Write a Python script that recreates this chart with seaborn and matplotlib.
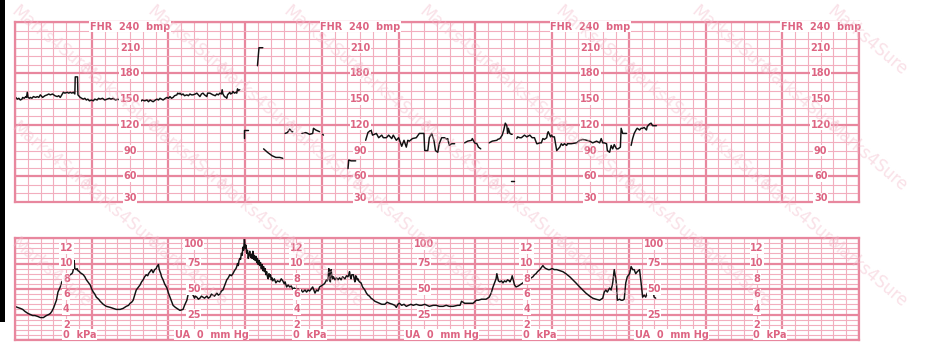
import numpy as np
import pandas as pd
import matplotlib
matplotlib.use("Agg")
import matplotlib.pyplot as plt
import seaborn as sns
from matplotlib.ticker import MultipleLocator
from matplotlib.patches import Rectangle

sns.set_theme(style="white")
plt.rcParams['font.family'] = ['DejaVu Sans']

nan = float('nan')

# ---------------- data (time in minutes) ----------------
fhr_time = [
    0.01, 0.03, 0.05, 0.07, 0.09, 0.10, 0.12, 0.14, 0.15, 0.16, 0.17, 0.19, 0.20, 0.22, 0.24, 0.27, 0.29, 0.31,
    0.33, 0.35, 0.36, 0.39, 0.42, 0.44, 0.46, 0.49, 0.52, 0.55, 0.57, 0.59, 0.61, 0.63, 0.65, 0.68, 0.70, 0.72,
    0.74, 0.76, 0.78, 0.785, 0.815, 0.82, 0.84, 0.85, 0.87, 0.89, 0.91, 0.93, 0.95, 0.97, 1.00, 1.02, 1.04, 1.07,
    1.09, 1.11, 1.14, 1.17, 1.20, 1.23, 1.25, 1.28, 1.31, 1.34, 1.37, 1.40, 1.43, 1.46, 1.49, 1.52, 1.54, 1.57,
    1.60, 1.63, 1.66, 1.69, 1.72, 1.74, 1.76, 1.78, 1.80, 1.83, 1.85, 1.87, 1.89, 1.91, 1.93, 1.96, 1.98, 2.00,
    2.02, 2.04, 2.06, 2.08, 2.11, 2.12, 2.14, 2.15, 2.17, 2.19, 2.21, 2.24, 2.26, 2.28, 2.30, 2.32, 2.35, 2.37,
    2.39, 2.41, 2.43, 2.45, 2.47, 2.50, 2.51, 2.54, 2.56, 2.58, 2.61, 2.63, 2.65, 2.67, 2.69, 2.70, 2.71, 2.73,
    2.75, 2.76, 2.77, 2.80, 2.81, 2.83, 2.84, 2.86, 2.88, 2.89, 2.90, 2.91, 2.93, nan,
    2.99, 2.99, 3.04, nan,
    3.16, 3.18, 3.23, nan,
    3.24, 3.29, 3.35, 3.40, 3.45, 3.49, nan,
    3.52, 3.55, 3.58, 3.61, 3.62, nan,
    3.74, 3.79, 3.84, 3.88, 3.89, 3.92, 3.97, nan,
    4.01, 4.02, nan,
    4.34, 4.35, 4.38, 4.44, nan,
    4.57, 4.60, 4.64, 4.66, 4.71, 4.74, 4.78, 4.80, 4.84, 4.87, 4.91, 4.93, 4.97, 5.00, 5.04, 5.07, 5.10, 5.12,
    5.14, 5.18, 5.23, 5.27, 5.33, 5.34, 5.38, 5.40, 5.43, 5.46, 5.48, 5.51, 5.53, 5.56, 5.60, 5.63, 5.64, 5.66,
    5.69, 5.73, nan,
    5.86, 5.90, 5.95, 5.96, 5.99, 6.02, 6.04, 6.07, nan,
    6.18, 6.22, 6.28, 6.29, 6.32, 6.35, 6.37, 6.39, 6.41, 6.42, 6.43, 6.45, 6.47, 6.48, nan,
    6.47, 6.51, nan,
    6.54, 6.55, 6.58, 6.60, 6.64, 6.67, 6.71, 6.73, 6.74, 6.77, 6.80, 6.81, 6.84, 6.86, 6.88, 6.90, 6.93, 6.94,
    6.95, 6.98, 6.99, 7.01, 7.03, 7.06, 7.10, 7.12, 7.14, 7.16, 7.19, 7.20, 7.25, 7.32, 7.36, 7.40, 7.45, 7.49,
    7.53, 7.58, 7.62, 7.64, 7.66, 7.68, 7.71, 7.72, 7.75, 7.77, 7.79, 7.81, 7.84, 7.86, 7.89, 7.90, 7.92, 7.97, nan,
    8.03, 8.05, 8.07, 8.10, 8.11, 8.14, 8.16, 8.18, 8.20, 8.23, 8.24, 8.27, 8.29, 8.31, 8.36,
]
fhr_bpm = [
    152, 150, 151, 149, 150, 152, 151, 153, 152, 158, 152, 151, 152, 151, 153, 152, 153, 152,
    155, 153, 152, 154, 155, 156, 155, 156, 154, 153, 154, 152, 155, 158, 157, 158, 157, 158,
    157, 158, 156, 176, 176, 155, 153, 152, 151, 150, 151, 149, 150, 148, 149, 148, 150, 149,
    151, 150, 151, 149, 150, 151, 150, 151, 149, 150, 149, 151, 150, 148, 150, 151, 150, 148,
    149, 147, 149, 148, 149, 147, 149, 148, 147, 149, 150, 149, 151, 150, 149, 151, 152, 151,
    153, 151, 152, 154, 155, 157, 156, 157, 155, 156, 154, 155, 154, 156, 155, 155, 156, 157,
    155, 153, 156, 157, 155, 153, 157, 157, 156, 155, 154, 156, 155, 157, 156, 161, 156, 153,
    152, 151, 155, 158, 156, 157, 159, 157, 158, 157, 162, 160, 161, nan,
    105, 114, 114, nan,
    189, 210, 210, nan,
    92, 88, 84, 82, 82, 81, nan,
    110, 111, 115, 112, 112, nan,
    110, 111, 109, 110, 116, 114, 112, nan,
    109, 108, nan,
    69, 79, 78, 78, nan,
    102, 111, 114, 108, 110, 105, 108, 105, 105, 108, 104, 108, 102, 105, 95, 102, 94, 102,
    101, 104, 105, 110, 110, 90, 90, 105, 110, 102, 90, 88, 98, 105, 105, 103, 104, 96,
    98, 98, nan,
    99, 101, 102, 104, 99, 98, 94, 92, nan,
    99, 101, 102, 103, 104, 108, 114, 122, 119, 110, 116, 110, 109, 109, nan,
    55, 55, nan,
    104, 106, 105, 105, 108, 106, 108, 106, 105, 105, 98, 98, 99, 99, 104, 103, 105, 110,
    112, 106, 108, 106, 106, 90, 94, 98, 96, 98, 96, 98, 98, 99, 102, 103, 102, 101,
    99, 101, 99, 104, 99, 99, 98, 90, 88, 96, 92, 97, 92, 92, 94, 116, 110, 110, nan,
    96, 104, 110, 115, 116, 114, 116, 116, 117, 114, 118, 121, 122, 119, 119,
]

ua_time = [
    0.00, 0.03, 0.07, 0.10, 0.13, 0.17, 0.20, 0.23, 0.26, 0.30, 0.33, 0.37, 0.41, 0.44, 0.46, 0.48, 0.50, 0.52,
    0.54, 0.56, 0.59, 0.61, 0.63, 0.65, 0.67, 0.69, 0.72, 0.74, 0.75, 0.76, 0.77, 0.78, 0.80, 0.81, 0.82, 0.84,
    0.85, 0.87, 0.89, 0.91, 0.93, 0.95, 0.98, 1.00, 1.02, 1.04, 1.06, 1.09, 1.11, 1.15, 1.19, 1.24, 1.28, 1.32,
    1.37, 1.41, 1.45, 1.48, 1.50, 1.52, 1.54, 1.56, 1.58, 1.60, 1.63, 1.65, 1.67, 1.69, 1.71, 1.73, 1.74, 1.76,
    1.78, 1.80, 1.82, 1.84, 1.85, 1.87, 1.88, 1.90, 1.91, 1.93, 1.95, 1.98, 2.00, 2.02, 2.04, 2.06, 2.09, 2.11,
    2.15, 2.19, 2.21, 2.24, 2.26, 2.28, 2.30, 2.32, 2.34, 2.35, 2.37, 2.39, 2.41, 2.43, 2.45, 2.47, 2.50, 2.52,
    2.54, 2.56, 2.58, 2.60, 2.63, 2.65, 2.67, 2.69, 2.71, 2.73, 2.76, 2.78, 2.80, 2.82, 2.84, 2.86, 2.88,
    2.89, 2.90, 2.91, 2.92, 2.93, 2.94, 2.95, 2.96, 2.97, 2.98, 2.99, 3.00, 3.01, 3.02, 3.03, 3.04, 3.05, 3.06,
    3.07, 3.08, 3.09, 3.10, 3.11, 3.12, 3.13, 3.14, 3.15, 3.16, 3.17, 3.18, 3.19, 3.20, 3.21, 3.22, 3.23, 3.24,
    3.25, 3.26, 3.27, 3.28, 3.29, 3.30, 3.31, 3.32, 3.33, 3.34, 3.35, 3.36, 3.38, 3.40, 3.42, 3.45, 3.47, 3.49,
    3.51, 3.52, 3.54, 3.56, 3.58, 3.60, 3.62, 3.64, 3.67, 3.69, 3.71, 3.73, 3.75, 3.78, 3.80, 3.82, 3.84, 3.86,
    3.88, 3.89, 3.91, 3.93, 3.95, 3.97,
    3.99, 4.01, 4.03, 4.04, 4.06, 4.07, 4.08, 4.09, 4.10, 4.11, 4.12, 4.13, 4.14, 4.15, 4.17, 4.19, 4.21, 4.23,
    4.25, 4.27, 4.30, 4.32, 4.34, 4.35, 4.36, 4.37, 4.38, 4.39, 4.41, 4.42, 4.43, 4.44, 4.45, 4.46, 4.47, 4.48,
    4.49, 4.51, 4.53, 4.56, 4.58, 4.60, 4.62, 4.64, 4.66, 4.69, 4.72, 4.75, 4.78, 4.82, 4.85, 4.88, 4.92, 4.95,
    4.97, 4.99, 5.01, 5.04, 5.07, 5.10, 5.13, 5.16, 5.19, 5.23, 5.27, 5.30, 5.34, 5.37, 5.40, 5.45, 5.49, 5.53,
    5.58, 5.62, 5.66, 5.71, 5.77, 5.80, 5.82, 5.84, 5.86, 5.90, 5.94, 5.97, 6.00, 6.01, 6.04, 6.08, 6.11, 6.14,
    6.16, 6.18, 6.20, 6.21, 6.23, 6.25, 6.27, 6.28, 6.30, 6.32, 6.34, 6.36, 6.38, 6.40, 6.42, 6.44, 6.45, 6.47,
    6.48, 6.50, 6.51, 6.53, 6.56, 6.58, 6.60, 6.62, 6.64, 6.66, 6.68, 6.71, 6.73, 6.75, 6.77, 6.79, 6.81, 6.84,
    6.86, 6.88, 6.90, 6.92, 6.95, 6.97, 7.00, 7.03, 7.06, 7.10, 7.14, 7.18, 7.23, 7.27, 7.31, 7.36, 7.40, 7.44,
    7.49, 7.53, 7.57, 7.62,
    7.64, 7.66, 7.68, 7.70, 7.72, 7.75, 7.77, 7.79, 7.81, 7.83, 7.84, 7.85, 7.88, 7.90, 7.92, 7.94, 7.96, 7.98,
    8.01, 8.03, 8.05, 8.07, 8.09, 8.11, 8.14, 8.16, 8.18, 8.20, 8.22, 8.24, 8.27, 8.29, 8.31, 8.33, 8.35,
]
ua_mmhg = [
    33, 32, 31, 30, 28, 26, 25, 24, 24, 23, 22, 22, 24, 25, 26, 28, 31, 35,
    39, 47, 52, 57, 59, 60, 61, 63, 64, 65, 66, 69, 78, 70, 69, 70, 68, 67,
    66, 65, 64, 62, 59, 57, 54, 50, 47, 45, 42, 40, 38, 35, 33, 32, 31, 30,
    30, 31, 33, 34, 36, 37, 39, 44, 49, 51, 54, 57, 59, 62, 64, 63, 65, 67,
    69, 66, 69, 70, 72, 74, 69, 65, 62, 59, 55, 51, 46, 42, 38, 34, 32, 31,
    29, 30, 34, 39, 46, 49, 47, 44, 41, 43, 42, 40, 41, 43, 42, 41, 43, 41,
    42, 45, 44, 43, 46, 44, 45, 48, 49, 53, 59, 61, 64, 63, 65, 68, 70,
    72, 75, 73, 78, 80, 79, 85, 83, 91, 88, 100, 90, 93, 85, 88, 80, 84, 87,
    81, 84, 80, 87, 79, 83, 78, 82, 76, 80, 74, 78, 73, 76, 70, 74, 68, 72,
    67, 70, 64, 67, 62, 60, 65, 62, 64, 59, 61, 58, 60, 56, 58, 57, 60, 58,
    55, 57, 52, 54, 52, 53, 50, 51, 49, 50, 48, 49, 47, 49, 47, 49, 48, 50,
    52, 50, 46, 49, 48, 52,
    53, 54, 55, 56, 59, 58, 60, 70, 62, 57, 69, 63, 60, 62, 59, 61, 59, 61,
    59, 62, 60, 63, 62, 64, 67, 62, 60, 64, 64, 60, 57, 63, 62, 59, 60, 58,
    57, 56, 52, 49, 46, 44, 43, 41, 40, 38, 37, 36, 35, 35, 37, 36, 35, 34,
    32, 35, 36, 34, 35, 33, 34, 35, 34, 35, 34, 34, 35, 34, 33, 34, 34, 33,
    33, 34, 33, 33, 34, 34, 38, 37, 36, 36, 36, 36, 38, 39, 39, 40, 40, 40,
    41, 42, 45, 47, 52, 56, 60, 65, 58, 57, 58, 56, 58, 57, 59, 58, 57, 60,
    63, 57, 54, 52, 53, 54, 55, 56, 58, 59, 59, 60, 61, 62, 64, 65, 67, 69,
    71, 73, 71, 70, 69, 69, 70, 69, 69, 68, 67, 65, 62, 59, 56, 52, 49, 46,
    43, 41, 40, 39,
    40, 41, 47, 49, 47, 51, 49, 56, 69, 60, 54, 39, 40, 39, 39, 40, 56, 62,
    65, 72, 69, 69, 65, 67, 69, 56, 42, 44, 42, 46, 47, 51, 49, 42, 41,
]

fhr_label_cols = [1.5, 4.5, 7.5, 10.5]
fhr_label_values = [210, 180, 150, 120, 90, 60]
kpa_cols = [0.67, 3.67, 6.67, 9.67]
kpa_values = [12, 10, 8, 6, 4, 2]
mmhg_cols = [2.33, 5.33, 8.33]
mmhg_values = [75, 50, 25]

# ---------------- frames ----------------
fhr_bpm_arr = np.array(fhr_bpm, dtype=float)
fhr_df = pd.DataFrame({"t": fhr_time, "bpm": fhr_bpm_arr,
                       "seg": np.cumsum(np.isnan(fhr_bpm_arr))}).dropna()
ua_df = pd.DataFrame({"t": ua_time, "mmhg": ua_mmhg, "seg": 0})

# ---------------- figure ----------------
W, H = 953, 354
fig = plt.figure(figsize=(W / 100, H / 100), dpi=100)
fig.patch.set_facecolor("white")

ax1 = fig.add_axes([15 / W, 1 - 202 / H, 844 / W, 180 / H])
ax2 = fig.add_axes([15 / W, 1 - 340 / H, 844 / W, 102 / H])

MAJ = "#e8879e"
MIN = "#f2aebe"
TXT = "#dd6482"

sns.lineplot(data=fhr_df, x="t", y="bpm", units="seg", estimator=None, sort=False,
             color="#111111", lw=1.05, ax=ax1, legend=False)
sns.lineplot(data=ua_df, x="t", y="mmhg", units="seg", estimator=None, sort=False,
             color="#111111", lw=1.05, ax=ax2, legend=False)

for ax in (ax1, ax2):
    ax.set_xlim(0, 11)
    ax.xaxis.set_major_locator(MultipleLocator(1))
    ax.xaxis.set_minor_locator(MultipleLocator(1 / 6))
    ax.set_axisbelow(True)
    ax.grid(which="major", color=MAJ, lw=1.6)
    ax.grid(which="minor", color=MIN, lw=0.8)
    ax.tick_params(which="both", length=0, labelbottom=False, labelleft=False)
    for s in ax.spines.values():
        s.set_color(MAJ)
        s.set_linewidth(1.6)
    ax.set_xlabel("")
    ax.set_ylabel("")
    ax.set_facecolor("white")

ax1.set_ylim(30, 240)
ax1.yaxis.set_major_locator(MultipleLocator(60))
ax1.yaxis.set_minor_locator(MultipleLocator(10))
ax2.set_ylim(0, 100)
ax2.yaxis.set_major_locator(MultipleLocator(25))
ax2.yaxis.set_minor_locator(MultipleLocator(5))

box = dict(facecolor="white", edgecolor="none", pad=0.4)
kw = dict(color=TXT, fontsize=7, fontweight="bold", va="center", ha="center", bbox=box, zorder=3)

for c in fhr_label_cols:
    ax1.text(c, 234.5, "FHR  240  bmp", **kw)
    for v in fhr_label_values:
        ax1.text(c, v, str(v), **kw)
    ax1.text(c, 34.5, "30", **kw)

for c in kpa_cols:
    for v in kpa_values:
        ax2.text(c, v * 7.5, str(v), **kw)
    ax2.text(c - 0.05, 5, "0  kPa", **{**kw, "ha": "left"})

for c in mmhg_cols:
    ax2.text(c, 94, "100", **kw)
    for v in mmhg_values:
        ax2.text(c, v, str(v), **kw)
    ax2.text(c - 0.25, 5, "UA  0  mm Hg", **{**kw, "ha": "left"})

# left dark edge of the scan
fig.add_artist(Rectangle((0, 1 - 322 / H), 5 / W, 322 / H, transform=fig.transFigure,
                         facecolor="black", edgecolor="none"))

# faint diagonal watermark (only copies that fit fully inside the picture)
for row, yy in enumerate(range(2, 250, 58)):
    off = 0 if row % 2 == 0 else 68
    for xx in range(8 + off, 860, 136):
        fig.text(xx / W, 1 - yy / H, "Marks4Sure", rotation=-40, fontsize=12,
                 color="#f3bccb", alpha=0.45, ha="left", va="top", zorder=10)

fig.savefig("out.png", dpi=100, facecolor="white")
